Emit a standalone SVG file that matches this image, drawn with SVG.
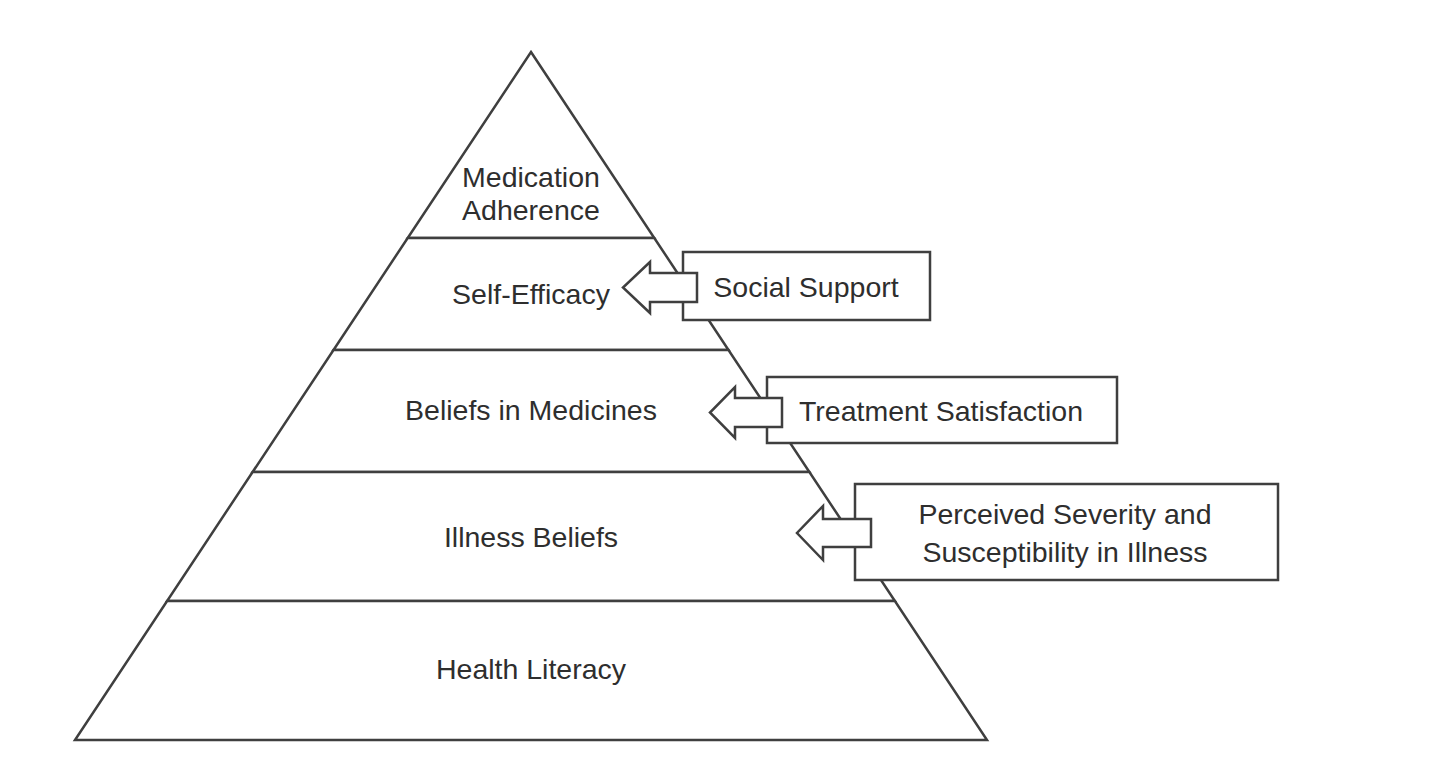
<svg xmlns="http://www.w3.org/2000/svg" width="1440" height="760" viewBox="0 0 1440 760">
<style>
.shape{fill:#ffffff;stroke:#3f3f3f;stroke-width:2.5;stroke-linejoin:miter}
.lbl{font-family:"Liberation Sans",Arial,sans-serif;font-size:28.5px;fill:#2e2e2e;text-anchor:middle}
</style>
<rect width="1440" height="760" fill="#ffffff"/>
<g id="pyramid">
<g id="layer-medication-adherence">
<polygon class="shape" points="531,52 654.3,238 407.7,238"/>
<text class="lbl" x="531" y="187">Medication</text>
<text class="lbl" x="531" y="220">Adherence</text>
</g>
<g id="layer-self-efficacy">
<polygon class="shape" points="407.7,238 654.3,238 728.5,350 333.5,350"/>
<text class="lbl" x="531" y="304">Self-Efficacy</text>
</g>
<g id="layer-beliefs-in-medicines">
<polygon class="shape" points="333.5,350 728.5,350 809.4,472 252.6,472"/>
<text class="lbl" x="531" y="420">Beliefs in Medicines</text>
</g>
<g id="layer-illness-beliefs">
<polygon class="shape" points="252.6,472 809.4,472 894.9,601 167.1,601"/>
<text class="lbl" x="531" y="547">Illness Beliefs</text>
</g>
<g id="layer-health-literacy">
<polygon class="shape" points="167.1,601 894.9,601 987,740 75,740"/>
<text class="lbl" x="531" y="679">Health Literacy</text>
</g>
</g>
<g id="social-support">
<rect class="shape" x="683" y="252" width="247" height="68"/>
<text class="lbl" x="806" y="297">Social Support</text>
</g>
<g id="treatment-satisfaction">
<rect class="shape" x="767" y="377" width="350" height="66"/>
<text class="lbl" x="941" y="421">Treatment Satisfaction</text>
</g>
<g id="perceived-severity">
<rect class="shape" x="855" y="484" width="423" height="96"/>
<text class="lbl" x="1065" y="524">Perceived Severity and</text>
<text class="lbl" x="1065" y="562">Susceptibility in Illness</text>
</g>
<g id="connectors">
<polygon class="shape" points="697,273 650,273 650,262 623,287.5 650,313 650,302 697,302"/>
<polygon class="shape" points="782,398 735,398 735,387 710,412.5 735,438 735,427 782,427"/>
<polygon class="shape" points="871,519 823,519 823,506 797,533 823,560 823,547 871,547"/>
</g>
</svg>
